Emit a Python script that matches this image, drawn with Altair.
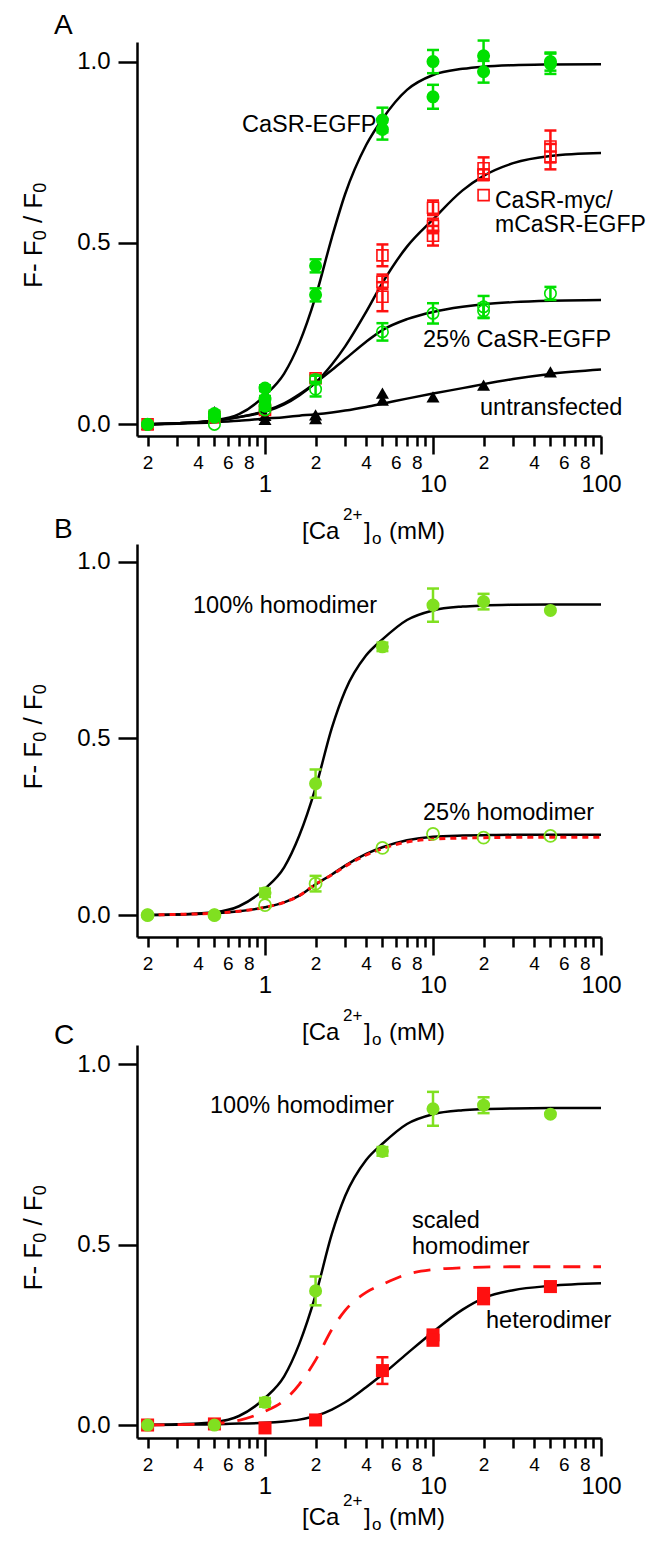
import altair as alt
import pandas as pd

FONT = "Liberation Sans"
BLACK = "#000000"
GREEN_A = "#00e000"
GREEN_BC = "#80e020"
RED = "#ff1010"

# ---------------- axes ----------------
X_TICK_VALUES = [0.2, 0.3, 0.4, 0.5, 0.6, 0.7, 0.8, 0.9, 1, 2, 3, 4, 5, 6, 7, 8, 9,
                 10, 20, 30, 40, 50, 60, 70, 80, 90, 100]
X_TICK_TEXT = ["2", "", "4", "", "6", "", "8", "", "1", "2", "", "4", "", "6", "", "8", "",
               "10", "2", "", "4", "", "6", "", "8", "", "100"]
X_MAJOR_VALUES = [1, 10, 100]
X_DOMAIN = [0.173, 100]
Y_TICK_VALUES = [0.0, 0.5, 1.0]

A_Y_DOMAIN = [-0.032, 1.054]
B_Y_DOMAIN = [-0.062, 1.050]
C_Y_DOMAIN = [-0.036, 1.054]
PANEL_W = 464
A_H = 394
B_H = 393
C_H = 393

# ---------------- panel A data ----------------
A_EGFP_X = [0.2, 0.5, 0.5, 1, 1, 1, 2, 2, 5, 5, 10, 10, 20, 20, 50, 50]
A_EGFP_Y = [0.0, 0.03, 0.02, 0.10, 0.07, 0.05, 0.437, 0.357, 0.839, 0.813, 1.0, 0.903, 1.016, 0.972, 1.0, 0.994]
A_EGFP_E = [0, 0.008, 0.008, 0.008, 0.008, 0.008, 0.018, 0.018, 0.034, 0.028, 0.032, 0.033, 0.042, 0.03, 0.025, 0.028]

A_MYC_X = [0.2, 0.5, 1, 2, 5, 5, 5, 10, 10, 10, 20, 20, 20, 50, 50]
A_MYC_Y = [0.0, 0.02, 0.04, 0.127, 0.466, 0.393, 0.352, 0.597, 0.547, 0.52, 0.706, 0.688, 0.632, 0.766, 0.738]
A_MYC_E = [0, 0, 0, 0.01, 0.03, 0.02, 0.04, 0.02, 0.02, 0.027, 0.03, 0.015, 0, 0.044, 0.035]

A_25_X = [0.2, 0.5, 1, 2, 2, 5, 10, 20, 20, 50]
A_25_Y = [0.0, 0.0, 0.04, 0.124, 0.097, 0.255, 0.306, 0.324, 0.313, 0.361]
A_25_E = [0, 0, 0, 0.01, 0.02, 0.024, 0.028, 0.03, 0.02, 0.018]

A_UNT_X = [0.2, 0.5, 1, 1, 2, 2, 5, 5, 10, 20, 50]
A_UNT_Y = [0.0, 0.035, 0.025, 0.014, 0.026, 0.016, 0.086, 0.067, 0.076, 0.108, 0.145]

FIT_X = [0.2, 0.3, 0.5, 0.7, 1, 1.3, 1.6, 2, 2.5, 3, 4, 5, 7, 10, 15, 20, 30, 50, 100]
A_FIT_EGFP = [0.001, 0.003, 0.011, 0.028, 0.08, 0.14, 0.224, 0.352, 0.515, 0.635, 0.77, 0.842,
              0.922, 0.963, 0.98, 0.986, 0.99, 0.992, 0.993]
A_FIT_MYC = [0.0, 0.003, 0.01, 0.02, 0.035, 0.055, 0.08, 0.115, 0.165, 0.215, 0.31, 0.39,
             0.49, 0.565, 0.645, 0.685, 0.72, 0.74, 0.748]
A_FIT_25 = [0.0, 0.003, 0.01, 0.02, 0.037, 0.058, 0.083, 0.115, 0.15, 0.18, 0.228, 0.26,
            0.29, 0.31, 0.324, 0.331, 0.337, 0.341, 0.343]
A_FIT_UNT = [0.0, 0.002, 0.006, 0.01, 0.016, 0.02, 0.024, 0.028, 0.033, 0.038, 0.048, 0.057,
             0.071, 0.085, 0.1, 0.111, 0.125, 0.139, 0.151]

# ---------------- panel B / C data ----------------
HOMO100_X = [0.2, 0.5, 1, 2, 5, 10, 20, 50]
HOMO100_Y = [0.0, 0.0, 0.063, 0.372, 0.759, 0.877, 0.887, 0.862]
HOMO100_E = [0, 0, 0.012, 0.04, 0.012, 0.047, 0.022, 0]

HOMO25_X = [0.2, 0.5, 1, 2, 5, 10, 20, 50]
HOMO25_Y = [0.0, 0.0, 0.028, 0.089, 0.19, 0.23, 0.219, 0.224]
HOMO25_E = [0, 0, 0, 0.022, 0, 0, 0, 0]

HETERO_X = [0.2, 0.5, 1, 2, 5, 10, 10, 20, 20, 50]
HETERO_Y = [0.0, 0.003, -0.008, 0.014, 0.151, 0.25, 0.235, 0.365, 0.35, 0.384]
HETERO_E = [0, 0, 0, 0, 0.037, 0, 0, 0, 0, 0]

FIT_HOMO100 = [0.0, 0.002, 0.008, 0.025, 0.075, 0.135, 0.225, 0.36, 0.53, 0.635, 0.735, 0.78,
               0.835, 0.862, 0.873, 0.876, 0.878, 0.879, 0.879]
FIT_HOMO25 = [0.0, 0.002, 0.005, 0.011, 0.022, 0.036, 0.055, 0.087, 0.115, 0.14, 0.173, 0.192,
              0.212, 0.222, 0.225, 0.226, 0.227, 0.227, 0.227]
FIT_HOMO25_RED = [0.0, 0.002, 0.005, 0.011, 0.022, 0.036, 0.055, 0.087, 0.114, 0.138, 0.17, 0.188,
                  0.207, 0.215, 0.218, 0.219, 0.22, 0.22, 0.22]
FIT_SCALED = [0.0, 0.001, 0.004, 0.013, 0.038, 0.068, 0.113, 0.18, 0.265, 0.318, 0.368, 0.39,
              0.418, 0.431, 0.436, 0.438, 0.439, 0.439, 0.439]
FIT_HETERO = [0.0, 0.001, 0.002, 0.004, 0.006, 0.01, 0.015, 0.025, 0.043, 0.063, 0.105, 0.14,
              0.198, 0.258, 0.32, 0.352, 0.374, 0.386, 0.393]

# ---------------- helpers ----------------
label_expr = "''"
for v, t in reversed(list(zip(X_TICK_VALUES, X_TICK_TEXT))):
    if t:
        label_expr = f"datum.value == {v} ? '{t}' : ({label_expr})"
MAJOR_TEST = "indexof([" + ",".join(str(v) for v in X_MAJOR_VALUES) + "], datum.value) >= 0"

X_AXIS = alt.Axis(
    values=X_TICK_VALUES, labelExpr=label_expr, title=None, grid=False,
    domainColor=BLACK, domainWidth=2.5, tickColor=BLACK, tickWidth=2.5,
    tickSize={"condition": {"test": MAJOR_TEST, "value": 18}, "value": 10},
    labelFontSize={"condition": {"test": MAJOR_TEST, "value": 24}, "value": 19},
    labelPadding={"condition": {"test": MAJOR_TEST, "value": 18}, "value": 7},
    labelBaseline="top", labelFont=FONT, labelColor=BLACK,
    labelOverlap=False, labelFlush=False)

Y_AXIS = alt.Axis(
    values=Y_TICK_VALUES, format=".1f", title=None, grid=False,
    domainColor=BLACK, domainWidth=2.5, tickColor=BLACK, tickWidth=2.5, tickSize=19,
    labelFontSize=24, labelPadding=8, labelFont=FONT, labelColor=BLACK,
    labelOverlap=False, labelFlush=False)


def X(field):
    return alt.X(f"{field}:Q", scale=alt.Scale(type="log", domain=X_DOMAIN, nice=False),
                 axis=X_AXIS)


def Y(field, dom):
    return alt.Y(f"{field}:Q", scale=alt.Scale(domain=dom, nice=False, zero=False),
                 axis=Y_AXIS)


def curve(xs, ys, dom, color=BLACK, dash=None, width=2.5):
    df = pd.DataFrame({"x": xs, "y": ys})
    kw = dict(color=color, strokeWidth=width, interpolate="monotone")
    if dash:
        kw["strokeDash"] = dash
    return alt.Chart(df).mark_line(**kw).encode(x=X("x"), y=Y("y", dom))


def series(xs, ys, es, dom, color, shape, filled, size, sw=1.6):
    df = pd.DataFrame({"x": xs, "y": ys, "e": es})
    layers = []
    eb = df[df.e > 0].copy()
    if len(eb):
        eb["lo"] = eb.y - eb.e
        eb["hi"] = eb.y + eb.e
        caps = pd.concat([pd.DataFrame({"x": eb.x, "v": eb.lo}),
                          pd.DataFrame({"x": eb.x, "v": eb.hi})])
        layers.append(alt.Chart(eb).mark_rule(color=color, strokeWidth=2.5).encode(
            x=X("x"), y=Y("lo", dom), y2="hi"))
        layers.append(alt.Chart(caps).mark_tick(color=color, orient="horizontal", size=12,
                                                thickness=2.5, opacity=1).encode(
            x=X("x"), y=Y("v", dom)))
    if filled:
        m = alt.Chart(df).mark_point(shape=shape, filled=True, fill=color, size=size,
                                     opacity=1, strokeWidth=0)
    else:
        m = alt.Chart(df).mark_point(shape=shape, filled=False, stroke=color, size=size,
                                     opacity=1, strokeWidth=sw)
    layers.append(m.encode(x=X("x"), y=Y("y", dom)))
    return layers


ONE = pd.DataFrame({"k": [0]})


def txt(s, x, y, size=23.5, angle=0, align="left", baseline="alphabetic", font=FONT):
    return alt.Chart(ONE).mark_text(text=s, fontSize=size, angle=angle, align=align,
                                    baseline=baseline, font=font, color=BLACK).encode(
        x=alt.value(x), y=alt.value(y))


def frame_text(letter, letter_y, h, title_off=103):
    out = [txt(letter, -83, letter_y, size=28)]
    # x axis title  [Ca2+]o (mM)
    base = h + title_off
    out += [txt("[Ca", 165, base, size=24),
            txt("2+", 206, base - 19, size=17),
            txt("]", 227, base, size=24),
            txt("o", 235, base + 5, size=17),
            txt("(mM)", 252, base, size=24)]
    # y axis title  F- F0 / F0 (rotated)
    y0 = h / 2 + 49
    out += [txt("F- F", -95, y0, size=26, angle=270),
            txt("0", -91, y0 - 47.7, size=18, angle=270),
            txt("/ F", -95, y0 - 64.9, size=26, angle=270),
            txt("0", -91, y0 - 95.3, size=18, angle=270)]
    return out


# invisible corner marker: fixes where the page's top-left corner falls (8 px page margin)
corner = alt.Chart(ONE).mark_rule(strokeOpacity=0, strokeWidth=1).encode(
    x=alt.value(-129), x2=alt.value(-128), y=alt.value(-34), y2=alt.value(-34))

# ---------------- panel A ----------------
dA = A_Y_DOMAIN
panelA = alt.layer(
    corner,
    curve(FIT_X, A_FIT_UNT, dA), curve(FIT_X, A_FIT_25, dA),
    curve(FIT_X, A_FIT_MYC, dA), curve(FIT_X, A_FIT_EGFP, dA),
    *series(A_UNT_X, A_UNT_Y, [0] * len(A_UNT_X), dA, BLACK, "triangle-up", True, 170),
    *series(A_MYC_X, A_MYC_Y, A_MYC_E, dA, RED, "square", False, 121),
    *series(A_25_X, A_25_Y, A_25_E, dA, GREEN_A, "circle", False, 130),
    *series(A_EGFP_X, A_EGFP_Y, A_EGFP_E, dA, GREEN_A, "circle", True, 170),
    txt("CaSR-EGFP", 105, 89.7), txt("CaSR-myc/", 358, 166.3, size=23),
    txt("mCaSR-EGFP", 358, 189.7, size=23), txt("25% CaSR-EGFP", 286, 304.7),
    txt("untransfected", 343, 373),
    *frame_text("A", -8, A_H),
).properties(width=PANEL_W, height=A_H)

# ---------------- panel B ----------------
dB = B_Y_DOMAIN
panelB = alt.layer(
    curve(FIT_X, FIT_HOMO100, dB), curve(FIT_X, FIT_HOMO25, dB),
    curve(FIT_X, FIT_HOMO25_RED, dB, color=RED, dash=[6, 5], width=3),
    *series(HOMO25_X, HOMO25_Y, HOMO25_E, dB, GREEN_BC, "circle", False, 145, sw=1.8),
    *series(HOMO100_X, HOMO100_Y, HOMO100_E, dB, GREEN_BC, "circle", True, 170),
    txt("100% homodimer", 56, 68.7), txt("25% homodimer", 286, 276),
    *frame_text("B", -6, B_H),
).properties(width=PANEL_W, height=B_H)

# ---------------- panel C ----------------
dC = C_Y_DOMAIN
panelC = alt.layer(
    curve(FIT_X, FIT_HOMO100, dC), curve(FIT_X, FIT_HETERO, dC),
    curve(FIT_X, FIT_SCALED, dC, color=RED, dash=[17, 13], width=2.8),
    *series(HETERO_X, HETERO_Y, HETERO_E, dC, RED, "square", True, 170),
    *series(HOMO100_X, HOMO100_Y, HOMO100_E, dC, GREEN_BC, "circle", True, 170),
    txt("100% homodimer", 73, 68.3), txt("scaled", 275, 183.3),
    txt("homodimer", 275, 209), txt("heterodimer", 349, 283.3),
    *frame_text("C", -1.4, C_H, title_off=87),
).properties(width=PANEL_W, height=C_H)

chart = alt.vconcat(panelA, panelB, panelC, spacing=108, bounds="flush").properties(
    padding={"left": 0, "top": 0, "right": 0, "bottom": 0}
).configure_view(stroke=None)

chart.save("out.html", embed_options={"renderer": "svg", "actions": False})
